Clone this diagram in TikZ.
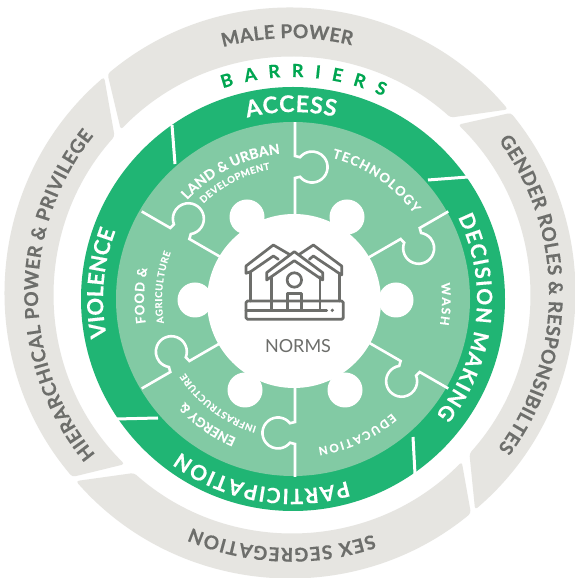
\documentclass[tikz,border=0pt]{standalone}
\usepackage{fontspec}
\setmainfont{Lato}
\newfontfamily\ringfont[FakeBold=0.4]{Lato Bold}
\usetikzlibrary{calc,decorations.text}
\definecolor{ringgray}{HTML}{E6E5E1}
\definecolor{txtgray}{HTML}{6D6E6B}
\definecolor{dkgreen}{HTML}{20B574}
\definecolor{ltgreen}{HTML}{82CAA4}
\definecolor{barrier}{HTML}{00A651}
\newcommand\arctext[7]{\path[decorate,decoration={text along path,text align={fit to path},text={|\ringfont\fontsize{#6}{#6}\selectfont\color{#1}|#7}}] ($(#2)+(#3:#5)$) arc[start angle=#3,end angle=#4,radius=#5];}
\newcommand\grayseg[4]{\fill[ringgray,rounded corners=3pt] ($(O)+(#1:285)$) arc[start angle=#1,end angle=#2,radius=285] -- ($(I)+(#3:238)$) arc[start angle=#3,end angle=#4,radius=238] -- cycle;}
\newcommand\seam[1]{\begin{scope}[shift={(L)},rotate=#1]
\clip (-2,-60) rectangle (177,30);
\draw[white,line width=2.6pt] (85,0) -- (122,0) -- (123.2,-5) arc[start angle=129,end angle=411,radius=15.5] -- (144,0) -- (180,0);
\end{scope}}
\tikzset{iconline/.style={draw=txtgray,line width=2.7pt,line join=round,line cap=round}}
\begin{document}
\begin{tikzpicture}[x=1pt,y=1pt]
\useasboundingbox (0,0) rectangle (574,578);
\fill[white] (0,0) rectangle (574,578);
\coordinate (O) at (290,285);
\coordinate (I) at (292,283);
\coordinate (G) at (293,279);
\coordinate (L) at (295,278);
\coordinate (T) at (291,284);
% gray ring
\grayseg{129.8}{40.1}{48.2}{136}
\grayseg{39.2}{-49.5}{-41.8}{45.7}
\grayseg{-50.6}{-138.7}{-131.6}{-44.5}
\grayseg{220.2}{130.7}{138.2}{225.3}
% green ring and puzzle disc
\fill[dkgreen] (G) circle[radius=212];
\fill[ltgreen] (G) circle[radius=177];
\fill[white] (294,277) circle[radius=87];
\foreach \kx/\ky in {247/361,347/361,396/278,195/278,245/188,345/188}
  \fill[white] (\kx,\ky) circle[radius=17.5];
\seam{90}\seam{30}\seam{-30}\seam{-90}\seam{-150}\seam{150}
% separators of the green ring
\draw[white,line width=3pt] (172,453) -- (175,414);
\draw[white,line width=3pt] (468,401) -- (428,398);
\draw[white,line width=3pt] (415,104) -- (413,141);
\draw[white,line width=3pt] (116,159) -- (158,160);
% house icon
\begin{scope}[shift={(230,348)},x=0.3333pt,y=-0.3333pt]
\draw[iconline,rounded corners=1.5pt] (48,213) rectangle (340,268);
\draw[iconline] (48,241) -- (290,241);
\fill[txtgray] (307,241) circle[radius=1.8pt];
\draw[iconline] (125,140) -- (125,241);
\draw[iconline] (270,140) -- (270,241);
\draw[iconline] (172,241) -- (172,190) -- (215,190) -- (215,241);
\draw[iconline] (193,150) circle[radius=7.2pt];
\draw[iconline] (110,128) -- (193,65) -- (278,128) -- (278,150) -- (193,92) -- (110,150) -- cycle;
\draw[iconline] (178,73) -- (130,45) -- (48,108) -- (48,130) -- (62,125) -- (130,78) -- (145,88);
\draw[iconline] (62,125) -- (62,213);
\draw[iconline] (208,73) -- (250,45) -- (335,108) -- (335,135) -- (320,125) -- (250,78) -- (238,88);
\draw[iconline] (328,130) -- (328,213);
\end{scope}
\node[text=txtgray,font=\fontsize{18}{18}\selectfont] (norms) at (298,232) {NORMS};
% outer ring labels
\arctext{txtgray}{T}{105.4}{76.3}{256}{19}{MALE POWER}
\arctext{txtgray}{T}{219.4}{141.3}{253}{19}{HIERARCHICAL POWER {\&} PRIVILEGE}
\arctext{txtgray}{T}{36.5}{-36.7}{258}{19}{GENDER ROLES {\&} RESPONSIBILTES}
\arctext{txtgray}{T}{-71.2}{-113}{254}{19}{SEX SEGREGATION}
% barriers
\arctext{barrier}{G}{108.4}{66}{222}{18}{BARRIERS}
% green ring labels
\arctext{white}{G}{104.2}{77}{187}{23}{ACCESS}
\arctext{white}{G}{26.4}{-38.9}{184}{21}{DECISION MAKING}
\arctext{white}{G}{-73.4}{-126.3}{190}{21}{PARTICIPATION}
\arctext{white}{G}{191.5}{159.4}{190}{22}{VIOLENCE}
% puzzle labels
\arctext{white}{L}{137.2}{95.8}{147}{14}{LAND {\&} URBAN}
\arctext{white}{L}{133.5}{100.8}{133}{9.5}{DEVELOPMENT}
\arctext{white}{L}{75.4}{36}{147}{13}{TECHNOLOGY}
\arctext{white}{L}{6.6}{-9.7}{147}{12}{WASH}
\arctext{white}{L}{-49.4}{-81.1}{149}{11.5}{EDUCATION}
\arctext{white}{L}{-113}{-136.3}{150}{13}{ENERGY {\&}}
\arctext{white}{L}{-106.9}{-146.4}{132}{9.5}{INFRASTRUCTURE}
\arctext{white}{L}{188.8}{167.9}{151}{13}{FOOD {\&}}
\arctext{white}{L}{190}{159}{133}{9.5}{AGRICULTURE}
\end{tikzpicture}
\end{document}
